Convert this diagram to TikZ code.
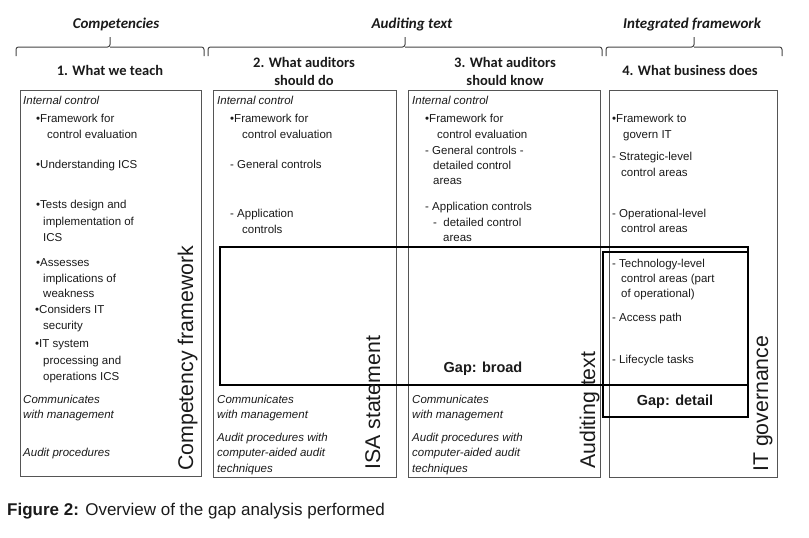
\documentclass[tikz,border=0pt]{standalone}
\usepackage{fontspec}
\setmainfont{Liberation Sans}
\newfontfamily\calib{Carlito}
\definecolor{ink}{HTML}{1A1A1A}
\definecolor{boxgray}{HTML}{555555}
\definecolor{bracegray}{HTML}{444444}
\newcommand\Lline[5][txt]{\node[#1] (#2) at (#3,#4) {#5};}
\begin{document}
\begin{tikzpicture}[x=1pt,y=-1pt,
  txt/.style={anchor=base west, inner sep=0pt, text=ink, font=\fontsize{11.5}{14}\selectfont},
  itx/.style={txt, font=\fontsize{11.5}{14}\selectfont\itshape},
  colbox/.style={draw=boxgray, line width=0.9pt},
  gapbox/.style={draw=black, line width=2.6pt},
  gaplbl/.style={inner sep=0pt, text=ink, font=\fontsize{14.5}{16}\selectfont\bfseries},
  vert/.style={rotate=90, anchor=base west, inner sep=0pt, text=ink, font=\fontsize{21.3}{24}\selectfont},
  coltitle/.style={inner sep=0pt, align=center, text=ink, font=\calib\fontsize{14.5}{18}\selectfont\bfseries},
  grouplbl/.style={anchor=base, inner sep=0pt, text=ink, font=\calib\fontsize{15}{17}\selectfont\bfseries\itshape},
  bracepath/.style={draw=bracegray, line width=1pt, rounded corners=2.5pt}]
\useasboundingbox (0,0) rectangle (809,538);

% group labels
\node[grouplbl] (gComp) at (116,28) {Competencies};
\node[grouplbl] (gAud) at (412,28) {Auditing text};
\node[grouplbl] (gInt) at (692,28) {Integrated framework};

% braces
\draw[bracepath] (16,56) |- (110,47) -- (110,37);
\draw[bracepath] (110,47) -| (204,56);
\draw[bracepath] (208,56) |- (405,47) -- (405,37);
\draw[bracepath] (405,47) -| (602,56);
\draw[bracepath] (606,56) |- (694,47) -- (694,37);
\draw[bracepath] (694,47) -| (782,56);

% column titles
\node[coltitle] (t1) at (110,70) {1. What we teach};
\node[coltitle] (t2) at (304,71) {2. What auditors\\should do};
\node[coltitle] (t3) at (505,71) {3. What auditors\\should know};
\node[coltitle] (t4) at (690,70) {4. What business does};

% column boxes
\draw[colbox] (20,90) rectangle (201,476);
\draw[colbox] (213,90) rectangle (396,477);
\draw[colbox] (408,90) rectangle (600,477);
\draw[colbox] (609,90) rectangle (777,477);

% column 1
\Lline[itx]{a1}{23}{104}{Internal control}
\Lline{a2}{36}{122}{•Framework for}
\Lline{a3}{47}{138}{control evaluation}
\Lline{a4}{36}{168}{•Understanding ICS}
\Lline{a5}{36}{208}{•Tests design and}
\Lline{a6}{43}{225}{implementation of}
\Lline{a7}{43}{241}{ICS}
\Lline{a8}{36}{266}{•Assesses}
\Lline{a9}{43}{282}{implications of}
\Lline{a10}{43}{297}{weakness}
\Lline{a11}{35}{313}{•Considers IT}
\Lline{a12}{43}{329}{security}
\Lline{a13}{35}{347}{•IT system}
\Lline{a14}{43}{364}{processing and}
\Lline{a15}{43}{380}{operations ICS}
\Lline[itx]{a16}{23}{403}{Communicates}
\Lline[itx]{a17}{23}{418}{with management}
\Lline[itx]{a18}{23}{456}{Audit procedures}

% column 2
\Lline[itx]{b1}{217}{104}{Internal control}
\Lline{b2}{230}{122}{•Framework for}
\Lline{b3}{242}{138}{control evaluation}
\Lline{b4}{230}{168}{- General controls}
\Lline{b5}{230}{217}{- Application}
\Lline{b6}{242}{233}{controls}
\Lline[itx]{b7}{217}{403}{Communicates}
\Lline[itx]{b8}{217}{418}{with management}
\Lline[itx]{b9}{217}{441}{Audit procedures with}
\Lline[itx]{b10}{217}{456}{computer-aided audit}
\Lline[itx]{b11}{217}{472}{techniques}

% column 3
\Lline[itx]{c1}{412}{104}{Internal control}
\Lline{c2}{425}{122}{•Framework for}
\Lline{c3}{437}{138}{control evaluation}
\Lline{c4}{425}{154}{- General controls -}
\Lline{c5}{433}{169}{detailed control}
\Lline{c6}{433}{184}{areas}
\Lline{c7}{425}{210}{- Application controls}
\Lline{c8}{433}{226}{- \ detailed control}
\Lline{c9}{443}{241}{areas}
\Lline[itx]{c10}{412}{403}{Communicates}
\Lline[itx]{c11}{412}{418}{with management}
\Lline[itx]{c12}{412}{441}{Audit procedures with}
\Lline[itx]{c13}{412}{456}{computer-aided audit}
\Lline[itx]{c14}{412}{472}{techniques}

% column 4
\Lline{d1}{612}{122}{•Framework to}
\Lline{d2}{623}{138}{govern IT}
\Lline{d3}{612}{160}{- Strategic-level}
\Lline{d4}{621}{176}{control areas}
\Lline{d5}{612}{217}{- Operational-level}
\Lline{d6}{621}{232}{control areas}
\Lline{d7}{612}{267}{- Technology-level}
\Lline{d8}{621}{282}{control areas (part}
\Lline{d9}{621}{297}{of operational)}
\Lline{d10}{612}{321}{- Access path}
\Lline{d11}{612}{363}{- Lifecycle tasks}

% gap boxes
\draw[gapbox] (220,247) rectangle (748,385);
\draw[gapbox] (603,252) rectangle (748,417);
\node[gaplbl] (gapB) at (483,369) {Gap: broad};
\node[gaplbl] (gapD) at (675,402) {Gap: detail};

% vertical labels
\node[vert] (vComp) at (193,471) {Competency framework};
\node[vert] (vISA) at (380,470) {ISA statement};
\node[vert] (vAud) at (595,469) {Auditing text};
\node[vert] (vIT) at (768,472) {IT governance};

% caption
\node[anchor=base west, inner sep=0pt, text=ink, font=\fontsize{17}{20}\selectfont] (cap) at (7,515) {\textbf{Figure 2:} Overview of the gap analysis performed};
\end{tikzpicture}
\end{document}
